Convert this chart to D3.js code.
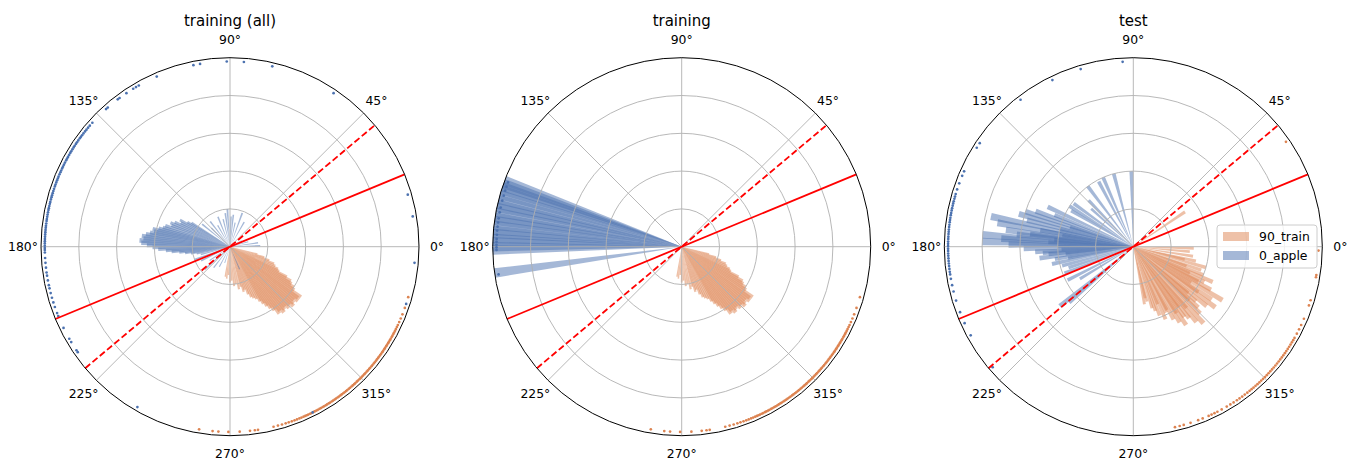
<!DOCTYPE html>
<html>
<head>
<meta charset="utf-8">
<script src="https://cdn.jsdelivr.net/npm/d3@7"></script>
<style>
  body { margin: 0; background: #fff; }
  text { font-family: "DejaVu Sans", sans-serif; fill: #000; }
</style>
</head>
<body>
<svg id="chart" width="1358" height="464"></svg>
<script>
// ---- data (angles in degrees, radial lengths on a 0..1 scale) ----
const panelTitles = ["training (all)", "training", "test"];
const angleTicks = [0, 45, 90, 135, 180, 225, 270, 315];
const ringTicks = [0.2, 0.4, 0.6, 0.8];
const seriesNames = ["90_train", "0_apple"];
const solidLineAngle = 22.5;
const dashedLineAngle = 40;
const dotRadius = 0.98;

// orange bars shared by both training panels: [angle, length]
const trainOrangeBars = [
  [261,0.16],[264,0.17],[267,0.15],[270,0.19],[273,0.18],[276,0.21],[279,0.20],[282,0.23],
  [285,0.22],[287,0.25],[289,0.24],[291,0.27],[293,0.29],[295,0.30],[297,0.31],[299,0.33],
  [300.5,0.35],[302,0.37],[303.5,0.39],[305,0.41],[306.5,0.44],[308,0.43],[309.5,0.45],
  [311,0.44],[312.5,0.43],[314,0.45],[315.5,0.44],[317,0.46],[318.5,0.45],[320,0.44],
  [321.5,0.46],[323,0.45],[324.5,0.46],[326,0.41],[327.5,0.40],[329,0.38],[330.5,0.37],
  [332,0.34],[333.5,0.29],[335,0.28],[337,0.26],[339,0.25],[341,0.22],[343,0.19],[345,0.15]
];

const trainAllBlueBars = [
  [148,0.24],[150,0.26],[152,0.30],[154,0.29],[156,0.32],[158,0.34],[160,0.33],[162,0.36],
  [164,0.37],[165.5,0.39],[167,0.42],[168.5,0.41],[170,0.43],[171.5,0.45],[173,0.47],
  [174.5,0.46],[176,0.48],[177.5,0.47],[179,0.44],[180.5,0.41],[182,0.38],[183.5,0.34],
  [185,0.31],[186.5,0.27],[188,0.24],[190,0.21],[192,0.18],[195,0.16],
  [60,0.15],[70,0.19],[78,0.13],[84,0.17],[88,0.16],[94,0.20],[98,0.18],[104,0.15],
  [112,0.17],[120,0.13],[128,0.17],[135,0.14],[141,0.19],[8,0.15],[2,0.16],[15,0.10],
  [28,0.07],[200,0.20],[206,0.17],[214,0.13],[222,0.18],[232,0.14],[242,0.12],[252,0.09],
  [293,0.13]
];

const trainBlueAngles = [159.5,160.5,161.5,162.5,164,165.5,167,168,169.5,171,172,173.5,
  175,176,177.5,178.5,180,181,188];
const trainBlueBars = trainBlueAngles.map(a => [a, 1.0]);

const testOrangeBars = [
  [34,0.33],[281,0.31],[284,0.30],[287,0.34],[291,0.39],[294,0.42],[296.5,0.39],[299,0.44],
  [301.5,0.47],[304,0.50],[306,0.46],[308,0.48],[310,0.52],[312.5,0.55],[315,0.50],
  [317,0.47],[319,0.44],[321,0.50],[323.5,0.54],[326,0.50],[329,0.55],[331,0.47],
  [333.5,0.42],[336,0.46],[338,0.40],[341,0.38],[344,0.40],[347,0.34],[351,0.32],
  [355,0.30],[358.5,0.32],
  [283,0.28],[289,0.36],[293,0.33],[298,0.38],[303,0.42],[307,0.40],[311,0.43],
  [316,0.41],[320,0.38],[325,0.42],[328,0.36],[332,0.39],[335,0.33],[340,0.30],[346,0.28]
];

const testBlueBars = [
  [91.5,0.40],[105,0.40],[113.5,0.40],[118,0.39],[127,0.40],[134,0.34],[138,0.30],
  [144,0.39],[147.5,0.40],[150,0.38],[155,0.50],[158,0.45],[160,0.55],[162,0.60],
  [164,0.63],[166,0.58],[168,0.77],[170,0.73],[172.5,0.68],[174,0.62],[175.5,0.80],
  [176.5,0.70],[178,0.80],[179,0.66],[181,0.58],[183,0.52],[185,0.45],[187,0.50],
  [189,0.42],[192,0.44],[195,0.39],[198,0.36],[201,0.39],[207,0.39],[211,0.33],
  [219,0.50],[221,0.45],
  [163,0.35],[167,0.40],[171,0.38],[173,0.55],[175,0.42],[177,0.45],[180,0.40],
  [182,0.38],[184,0.48],[186,0.36],[190,0.35],[170,0.50]
];

// sample directions plotted on the rim
const trainAllBlueDots = [16.3,9.4,355,342,296.5,240,56,76.8,85.7,91,99.3,101.4,113.3,
  119.5,120.5,121.5,124,126.6,127.3,131.3,132,138,139.2,
  140,140.8,141.5,142.3,143,143.6,144.2,145,145.7,146.3,147,147.6,148.3,149,149.6,150.3,
  151,151.6,152.2,153,153.7,154.4,155,155.7,156.3,157,157.8,158.4,159,159.7,160.4,161,
  161.8,162.5,163.2,163.9,164.5,165.2,166,166.6,167.3,168,168.6,169.3,170,170.7,171.4,
  172,172.8,173.5,174.1,174.8,175.5,176.2,176.9,177.6,178.3,179,179.7,180.4,181,181.8,
  183.5,185,186.5,188,189,190.5,192,193,194.5,196,197.5,199,201,202,206,209.8,211,214,214.7];

const trainOrangeDots = [260.4,264.6,266.4,269.5,273,276.2,277.7,278.7,283.6,285,286.3,
  287.5,288.5,289.5,290.4,291.2,292,292.7,293.4,
  294,294.5,295,295.6,296.1,296.7,297.2,297.8,298.3,298.9,299.4,300,300.5,301.1,301.6,
  302.2,302.7,303.3,303.8,304.4,304.9,305.5,306,306.6,307.1,307.7,308.2,308.8,309.3,
  309.9,310.4,311,311.5,312.1,312.6,313.2,313.7,314.3,314.8,315.4,315.9,316.5,317,317.6,
  318.1,318.7,319.2,319.8,320.3,320.9,321.4,322,322.5,323.1,323.6,324.2,324.7,325.3,
  325.8,326.4,326.9,327.5,328,328.6,329.1,329.7,330.2,330.8,331.3,331.9,332.4,333,333.6,
  334.3,335,336,337.2,338.6,340.7,344.2];

const trainBlueDots = [159.7,161.1,162.4,164,165.6,167.8,169.3,171.2,172.5,173.8,175,
  176.3,177.6,178.5,179.4,180.2,181,188.6];

const testBlueDots = [93.3,106.5,115.9,127.5,146,147.7,156,157.5,160,162,163.5,
  164.3,165,165.8,166.5,167.2,168,168.7,169.5,170.2,171,171.7,172.4,173.2,173.9,174.7,
  175.4,176.1,176.9,177.6,178.4,179.1,179.8,180.6,181.3,182.1,182.8,183.6,184.4,185.2,
  186,186.9,187.8,188.6,190,192,194,196.9,200.7,204.4,208.6,220.6];

const testOrangeDots = [34.5,358.8,351.2,350.5,343.2,341.5,337.1,335,333.5,332,
  330.5,329.7,328.9,328.1,327.3,326.5,325.7,324.9,324.1,323.3,322.5,321.7,320.9,320.1,
  319.3,318.5,317.7,316.9,316.1,315.3,314.5,313.7,312.9,312.1,311.3,310.5,309.7,308.9,
  308,307,306,305,304,302.8,301.6,300.3,298.5,297,296,295,294,292,290.5,288,285.8,
  284.5,283];

// ---- layout ----
const R = 189;
const centerY = 246.7;
const centerXs = [230, 681.7, 1133.3];
const barWidth = 0.05; // radians
const colors = { orange: "#dd8452", blue: "#4c72b0" };
const barAlpha = 0.5;

const panels = [
  { title: panelTitles[0], orangeBars: trainOrangeBars, blueBars: trainAllBlueBars,
    orangeDots: trainOrangeDots, blueDots: trainAllBlueDots, legend: false },
  { title: panelTitles[1], orangeBars: trainOrangeBars, blueBars: trainBlueBars,
    orangeDots: trainOrangeDots, blueDots: trainBlueDots, legend: false },
  { title: panelTitles[2], orangeBars: testOrangeBars, blueBars: testBlueBars,
    orangeDots: testOrangeDots, blueDots: testBlueDots, legend: true }
];

const svg = d3.select("#chart");
const rScale = d3.scaleLinear().domain([0, 1]).range([0, R]);
const toRad = d3.scaleLinear().domain([0, 360]).range([0, 2 * Math.PI]);

// math angle (ccw from east) -> svg x,y
function polar(deg, r) {
  const a = toRad(deg);
  return [rScale(r) * Math.cos(a), -rScale(r) * Math.sin(a)];
}

const wedge = d3.arc()
  .innerRadius(0)
  .outerRadius(d => rScale(d[1]))
  .startAngle(d => Math.PI / 2 - toRad(d[0]) - barWidth / 2)
  .endAngle(d => Math.PI / 2 - toRad(d[0]) + barWidth / 2);

panels.forEach((p, i) => {
  const g = svg.append("g").attr("transform", `translate(${centerXs[i]},${centerY})`);

  // bars
  g.append("g").selectAll("path").data(p.orangeBars).join("path")
    .attr("d", wedge).attr("fill", colors.orange).attr("fill-opacity", barAlpha);
  g.append("g").selectAll("path").data(p.blueBars).join("path")
    .attr("d", wedge).attr("fill", colors.blue).attr("fill-opacity", barAlpha);

  // grid
  const grid = g.append("g").attr("stroke", "#b0b0b0").attr("stroke-width", 0.9).attr("fill", "none");
  grid.selectAll("circle").data(ringTicks).join("circle").attr("r", d => rScale(d));
  grid.selectAll("line").data(angleTicks).join("line")
    .attr("x1", 0).attr("y1", 0)
    .attr("x2", d => polar(d, 1)[0]).attr("y2", d => polar(d, 1)[1]);

  // rim dots
  g.append("g").selectAll("circle").data(p.orangeDots).join("circle")
    .attr("cx", d => polar(d, dotRadius)[0]).attr("cy", d => polar(d, dotRadius)[1])
    .attr("r", 1.35).attr("fill", colors.orange);
  g.append("g").selectAll("circle").data(p.blueDots).join("circle")
    .attr("cx", d => polar(d, dotRadius)[0]).attr("cy", d => polar(d, dotRadius)[1])
    .attr("r", 1.35).attr("fill", colors.blue);

  // decision lines through the origin
  [[solidLineAngle, null], [dashedLineAngle, "6.5,3"]].forEach(([ang, dash]) => {
    const a = polar(ang, 1), b = polar(ang + 180, 1);
    g.append("line")
      .attr("x1", b[0]).attr("y1", b[1]).attr("x2", a[0]).attr("y2", a[1])
      .attr("stroke", "red").attr("stroke-width", 1.8)
      .attr("stroke-dasharray", dash);
  });

  // outer spine
  g.append("circle").attr("r", R).attr("fill", "none").attr("stroke", "#000").attr("stroke-width", 1);

  // angle labels
  g.append("g").selectAll("text").data(angleTicks).join("text")
    .attr("x", d => polar(d, (R + 18) / R)[0])
    .attr("y", d => polar(d, (R + 18) / R)[1])
    .attr("text-anchor", "middle").attr("dominant-baseline", "central")
    .attr("font-size", 12.4)
    .text(d => d + "°");

  // title
  svg.append("text").attr("x", centerXs[i]).attr("y", 26)
    .attr("text-anchor", "middle").attr("font-size", 15).text(p.title);

  if (p.legend) {
    const lg = svg.append("g").attr("transform", "translate(1217,225)");
    lg.append("rect").attr("width", 100).attr("height", 43).attr("rx", 3)
      .attr("fill", "#fff").attr("fill-opacity", 0.8)
      .attr("stroke", "#cccccc").attr("stroke-width", 1);
    const items = [[seriesNames[0], colors.orange], [seriesNames[1], colors.blue]];
    items.forEach(([name, c], k) => {
      const yc = 11.5 + k * 19;
      lg.append("rect").attr("x", 6).attr("y", yc - 4.5).attr("width", 26).attr("height", 9)
        .attr("fill", c).attr("fill-opacity", barAlpha);
      lg.append("text").attr("x", 42).attr("y", yc).attr("dominant-baseline", "central")
        .attr("font-size", 12.4).text(name);
    });
  }
});
</script>
</body>
</html>
